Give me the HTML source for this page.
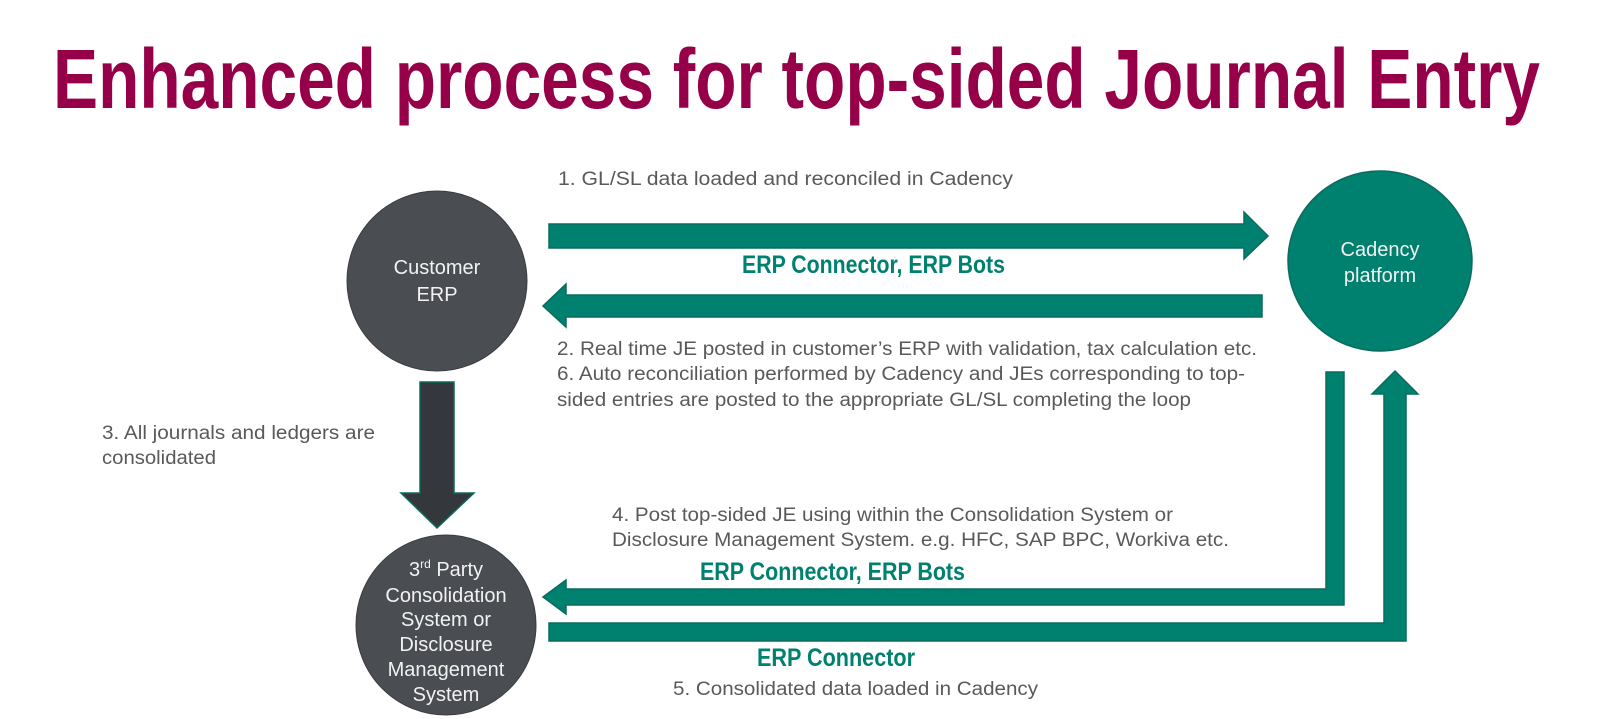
<!DOCTYPE html>
<html><head><meta charset="utf-8"><style>
html,body{margin:0;padding:0;background:#fff;width:1600px;height:719px;overflow:hidden}
svg{display:block}
text{font-family:"Liberation Sans",Arial,sans-serif}
.g{fill:#595959;font-size:19px}
.b{fill:#00806f;font-size:25px;font-weight:bold}
.w{fill:#f2f2f2;font-size:20px;text-anchor:middle}
</style></head><body>
<svg width="1600" height="719" viewBox="0 0 1600 719" xmlns="http://www.w3.org/2000/svg">
<text x="53" y="108" font-size="84" font-weight="bold" fill="#960048" textLength="1487" lengthAdjust="spacingAndGlyphs">Enhanced process for top-sided Journal Entry</text>

<g fill="#00806f" stroke="#0b6b5d" stroke-width="1.5">
<polygon points="549,224 1244,224 1244,212 1268,236 1244,259 1244,248 549,248"/>
<polygon points="1262,295 566,295 566,284 543,306 566,327 566,317 1262,317"/>
<polygon points="1326,372 1344,372 1344,605 566,605 566,614 543,597 566,580 566,589 1326,589"/>
<polygon points="549,623 1384,623 1384,394 1372,394 1395,371 1418,394 1406,394 1406,641 549,641"/>
</g>
<polygon points="420,382 454,382 454,493 474,493 437,528 401,493 420,493" fill="#34373b" stroke="#0b6b5d" stroke-width="1.5"/>

<circle cx="437" cy="281" r="90" fill="#4a4d52" stroke="#3a3c40" stroke-width="1"/>
<ellipse cx="1380" cy="261" rx="92" ry="90" fill="#00806f" stroke="#0b6b5d" stroke-width="1.5"/>
<circle cx="446" cy="625" r="90" fill="#4a4d52" stroke="#3a3c40" stroke-width="1"/>

<text class="w" x="437" y="274">Customer</text>
<text class="w" x="437" y="301">ERP</text>
<text class="w" x="1380" y="256">Cadency</text>
<text class="w" x="1380" y="282">platform</text>
<text class="w" x="446" y="576">3<tspan font-size="12" dy="-8">rd</tspan><tspan dy="8"> Party</tspan></text>
<text class="w" x="446" y="602">Consolidation</text>
<text class="w" x="446" y="626">System or</text>
<text class="w" x="446" y="651">Disclosure</text>
<text class="w" x="446" y="676">Management</text>
<text class="w" x="446" y="701">System</text>

<text class="g" x="558" y="185" textLength="455" lengthAdjust="spacingAndGlyphs">1.   GL/SL data loaded and reconciled in Cadency</text>
<text class="b" x="742" y="273" textLength="263" lengthAdjust="spacingAndGlyphs">ERP Connector, ERP Bots</text>
<text class="g" x="557" y="355" textLength="700" lengthAdjust="spacingAndGlyphs">2. Real time JE posted in customer’s ERP with validation, tax calculation etc.</text>
<text class="g" x="557" y="380" textLength="688" lengthAdjust="spacingAndGlyphs">6. Auto reconciliation performed by Cadency and JEs corresponding to top-</text>
<text class="g" x="557" y="406" textLength="634" lengthAdjust="spacingAndGlyphs">sided entries are posted to the appropriate GL/SL completing the loop</text>
<text class="g" x="102" y="439" textLength="273" lengthAdjust="spacingAndGlyphs">3. All journals and ledgers are</text>
<text class="g" x="102" y="464" textLength="114" lengthAdjust="spacingAndGlyphs">consolidated</text>
<text class="g" x="612" y="521" textLength="561" lengthAdjust="spacingAndGlyphs">4. Post top-sided JE using within the Consolidation System or</text>
<text class="g" x="612" y="546" textLength="617" lengthAdjust="spacingAndGlyphs">Disclosure Management System. e.g. HFC, SAP BPC, Workiva etc.</text>
<text class="b" x="700" y="580" textLength="265" lengthAdjust="spacingAndGlyphs">ERP Connector, ERP Bots</text>
<text class="b" x="757" y="666" textLength="158" lengthAdjust="spacingAndGlyphs">ERP Connector</text>
<text class="g" x="673" y="695" textLength="365" lengthAdjust="spacingAndGlyphs">5. Consolidated data loaded in Cadency</text>
</svg>
</body></html>
